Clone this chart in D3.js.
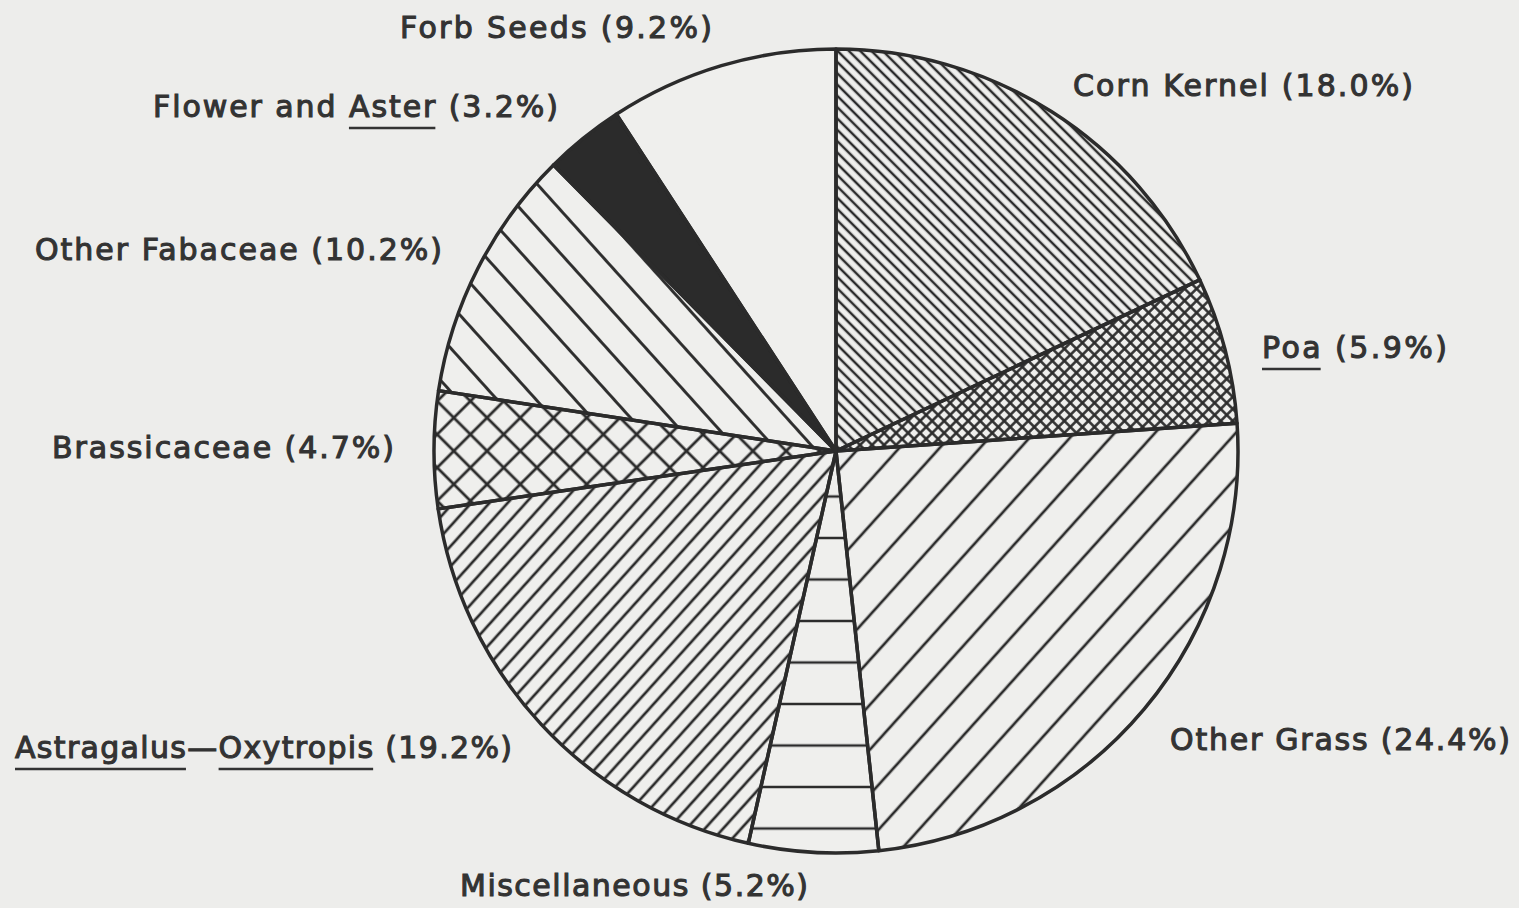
<!DOCTYPE html>
<html>
<head>
<meta charset="utf-8">
<script src="https://cdn.jsdelivr.net/npm/d3@7"></script>
<style>
  body { margin:0; background:#ededeb; }
  svg { display:block; }
  .lbl { font-family:"DejaVu Sans", sans-serif; font-weight:normal; font-size:30px; fill:#333; stroke:#333; stroke-width:1.1px; }
</style>
</head>
<body>
<div id="chart"></div>
<script>
// slices, clockwise from 12 o'clock
var categories = ["Corn Kernel", "_Poa_", "Other Grass", "Miscellaneous", "_Astragalus_\u2014_Oxytropis_",
                  "Brassicaceae", "Other Fabaceae", "Flower and _Aster_", "Forb Seeds"];
var percents = [18.0, 5.9, 24.4, 5.2, 19.2, 4.7, 10.2, 3.2, 9.2];
var fills = ["back", "crossFine", "slashWide", "horiz", "slashFine", "crossWide", "backWide", "solid", "none"];

// label layout (start x, baseline y, target width)
var labelLayout = [[1073, 96, 340], [1262, 358, 185], [1170, 750, 340], [460, 896, 348], [15, 758, 497],
                   [52, 458, 342], [35, 260, 407], [153, 117, 405], [400, 38, 312]];

var width = 1519, height = 908;
var cx = 836, cy = 451, radius = 402;
var ink = "#2b2b2b", paper = "#efefed";

var svg = d3.select("#chart").append("svg").attr("width", width).attr("height", height);
svg.append("rect").attr("width", width).attr("height", height).attr("fill", "#ededeb");

var defs = svg.append("defs");

// hatch: vertical lines spaced s, rotated by angle
function hatch(id, s, angle, w){
    var p = defs.append("pattern").attr("id", id)
        .attr("patternUnits", "userSpaceOnUse")
        .attr("width", s).attr("height", s)
        .attr("patternTransform", "rotate(" + angle + ")");
    p.append("line").attr("x1", s/2).attr("x2", s/2).attr("y1", -1).attr("y2", s+1)
        .attr("stroke", ink).attr("stroke-width", w);
    return p;
}
function cross(id, s, w){
    var p = defs.append("pattern").attr("id", id)
        .attr("patternUnits", "userSpaceOnUse")
        .attr("width", s).attr("height", s)
        .attr("patternTransform", "rotate(45)");
    p.append("line").attr("x1", s/2).attr("x2", s/2).attr("y1", -1).attr("y2", s+1)
        .attr("stroke", ink).attr("stroke-width", w);
    p.append("line").attr("y1", s/2).attr("y2", s/2).attr("x1", -1).attr("x2", s+1)
        .attr("stroke", ink).attr("stroke-width", w);
}

hatch("back", 8, -45, 2.5);
hatch("backWide", 29, -42, 2.9);
hatch("slashFine", 13.5, 42, 2.7);
hatch("slashWide", 30, 42, 2.7);
cross("crossFine", 8.5, 2.5);
cross("crossWide", 23.5, 2.8);

var hs = 41.5;
var hp = defs.append("pattern").attr("id", "horiz")
    .attr("patternUnits", "userSpaceOnUse")
    .attr("width", hs).attr("height", hs)
    .attr("y", 502 - hs/2);
hp.append("line").attr("x1", -1).attr("x2", hs+1).attr("y1", hs/2).attr("y2", hs/2)
    .attr("stroke", ink).attr("stroke-width", 2.7);

var pie = d3.pie().sort(null).value(function(d){ return d; });
var arcs = pie(percents);
var arc = d3.arc().innerRadius(0).outerRadius(radius);

var g = svg.append("g").attr("transform", "translate(" + cx + "," + cy + ")");

g.selectAll(".bg").data(arcs).enter().append("path")
    .attr("d", arc).attr("fill", paper);

g.selectAll(".pat").data(arcs).enter().append("path")
    .attr("d", arc)
    .attr("fill", function(d,i){
        if(fills[i] == "none") return "none";
        if(fills[i] == "solid") return ink;
        return "url(#" + fills[i] + ")";
    });

g.selectAll(".edge").data(arcs).enter().append("path")
    .attr("d", arc)
    .attr("fill", "none")
    .attr("stroke", ink)
    .attr("stroke-width", 3.5)
    .attr("stroke-linejoin", "round");

// labels, words between underscores are underlined
var fmt = d3.format(".1f");
var labels = svg.selectAll(".lbl").data(categories).enter().append("text")
    .attr("class", "lbl")
    .attr("x", function(d,i){ return labelLayout[i][0]; })
    .attr("y", function(d,i){ return labelLayout[i][1]; })
    .attr("textLength", function(d,i){ return labelLayout[i][2]; })
    .attr("lengthAdjust", "spacing");

var underlined = [];
labels.each(function(d,i){
    var t = d3.select(this);
    var parts = (d + " (" + fmt(percents[i]) + "%)").split("_");
    parts.forEach(function(p, k){
        if(p == "") return;
        var ts = t.append("tspan").text(p).attr("xml:space", "preserve");
        if(k % 2 == 1) underlined.push({node: ts.node(), y: labelLayout[i][1]});
    });
});

// underline bars sit well below the baseline, like the plotter lettering
underlined.forEach(function(u){
    var n = u.node.getNumberOfChars();
    var x0 = u.node.getStartPositionOfChar(0).x;
    var x1 = u.node.getEndPositionOfChar(n - 1).x;
    svg.append("line")
        .attr("x1", x0).attr("x2", x1)
        .attr("y1", u.y + 11).attr("y2", u.y + 11)
        .attr("stroke", "#333").attr("stroke-width", 2.6);
});
</script>
</body>
</html>
